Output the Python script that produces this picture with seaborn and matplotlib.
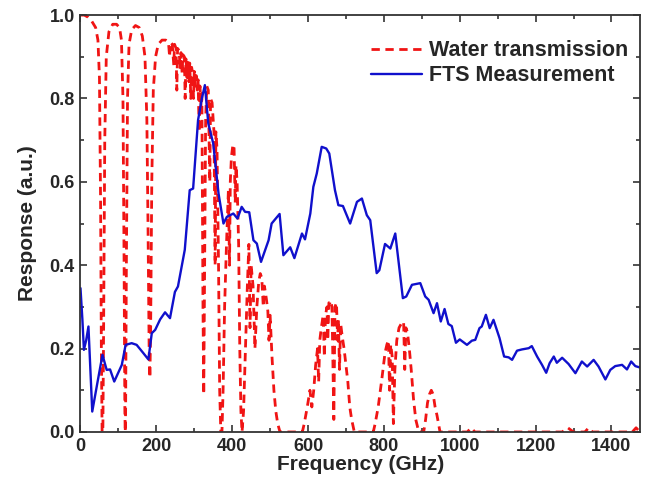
import numpy as np
import pandas as pd
import matplotlib
matplotlib.use("Agg")
import matplotlib.pyplot as plt
import seaborn as sns
from matplotlib.ticker import MultipleLocator

# --- data (rows of WATER_FREQ / WATER_TRANS line up) ---
WATER_FREQ = [0, 10, 20, 30, 40, 46, 50, 53, 55, 57,
              59, 61, 64, 68, 75, 85, 95, 103, 108, 112,
              115, 117, 118, 119, 121, 124, 128, 135, 145, 155,
              163, 170, 175, 178, 181, 183, 185, 188, 192, 198,
              205, 215, 225, 232, 235, 237, 242, 246, 248, 252,
              254, 256, 260, 263, 265, 268, 270, 274, 276, 278,
              281, 283, 286, 288, 291, 293, 296, 298, 300, 303,
              305, 308, 310, 313, 315, 318, 320, 323, 325, 327,
              330, 333, 337, 341, 343, 347, 352, 355, 357, 360,
              364, 367, 370, 373, 376, 380, 385, 390, 393, 395,
              398, 402, 405, 408, 410, 413, 417, 420, 423, 426,
              430, 435, 440, 444, 447, 450, 455, 460, 465, 470,
              474, 478, 482, 485, 490, 494, 497, 500, 505, 510,
              515, 520, 526, 585, 590, 598, 605, 610, 615, 620,
              625, 628, 631, 635, 640, 643, 646, 650, 652, 655,
              658, 660, 663, 665, 668, 671, 675, 678, 680, 683,
              686, 690, 695, 700, 705, 710, 715, 722, 772, 777,
              785, 795, 803, 808, 812, 815, 818, 822, 825, 829,
              834, 840, 846, 852, 855, 858, 862, 867, 872, 878,
              884, 892, 905, 910, 915, 920, 925, 930, 935, 940,
              948, 1020, 1030, 1040, 1270, 1285, 1300, 1330, 1340, 1350,
              1455, 1465, 1475]
WATER_TRANS = [1.00, 1.00, 0.995, 0.985, 0.97, 0.94, 0.85, 0.55, 0.20, 0.00,
               0.00, 0.25, 0.70, 0.90, 0.96, 0.978, 0.978, 0.97, 0.94, 0.80,
               0.40, 0.05, 0.00, 0.05, 0.40, 0.80, 0.93, 0.965, 0.975, 0.97,
               0.95, 0.90, 0.75, 0.50, 0.20, 0.13, 0.25, 0.60, 0.82, 0.90,
               0.93, 0.94, 0.94, 0.935, 0.90, 0.935, 0.93, 0.88, 0.93, 0.92,
               0.82, 0.92, 0.915, 0.87, 0.91, 0.86, 0.905, 0.90, 0.80, 0.895,
               0.85, 0.89, 0.84, 0.885, 0.80, 0.875, 0.86, 0.80, 0.865, 0.83,
               0.855, 0.82, 0.845, 0.72, 0.83, 0.78, 0.82, 0.30, 0.09, 0.35,
               0.75, 0.83, 0.82, 0.60, 0.80, 0.79, 0.72, 0.40, 0.72, 0.68,
               0.40, 0.10, 0.00, 0.00, 0.10, 0.30, 0.45, 0.58, 0.40, 0.60,
               0.66, 0.69, 0.68, 0.55, 0.64, 0.60, 0.45, 0.20, 0.05, 0.00,
               0.05, 0.20, 0.35, 0.45, 0.25, 0.40, 0.35, 0.20, 0.30, 0.36,
               0.38, 0.37, 0.30, 0.35, 0.32, 0.29, 0.22, 0.28, 0.18, 0.10,
               0.05, 0.02, 0.00, 0.00, 0.02, 0.06, 0.10, 0.06, 0.10, 0.16,
               0.20, 0.12, 0.22, 0.25, 0.28, 0.18, 0.28, 0.30, 0.22, 0.31,
               0.31, 0.315, 0.30, 0.20, 0.03, 0.30, 0.31, 0.22, 0.27, 0.15,
               0.26, 0.23, 0.20, 0.16, 0.12, 0.06, 0.03, 0.00, 0.00, 0.02,
               0.06, 0.13, 0.19, 0.21, 0.22, 0.10, 0.21, 0.18, 0.02, 0.15,
               0.22, 0.25, 0.26, 0.265, 0.15, 0.25, 0.24, 0.20, 0.15, 0.08,
               0.03, 0.00, 0.00, 0.03, 0.07, 0.09, 0.10, 0.09, 0.06, 0.04,
               0.00, 0.00, 0.01, 0.00, 0.00, 0.01, 0.00, 0.00, 0.01, 0.00,
               0.00, 0.01, 0.00]

FTS_FREQ = [0, 5, 9, 15, 21, 31, 45, 58, 69, 78,
            89, 109, 119, 135, 148, 165, 179, 188, 197, 210,
            223, 236, 249, 257, 275, 288, 297, 310, 320, 328,
            337, 350, 364, 377, 386, 403, 414, 425, 434, 445,
            456, 465, 476, 496, 504, 525, 535, 553, 564, 584,
            592, 606, 614, 623, 636, 648, 656, 671, 680, 692,
            711, 729, 742, 755, 764, 781, 788, 803, 817, 830,
            850, 859, 874, 896, 909, 918, 931, 940, 950, 960,
            970, 979, 990, 1000, 1019, 1032, 1041, 1052, 1058, 1069,
            1079, 1089, 1105, 1117, 1129, 1138, 1151, 1164, 1182, 1190,
            1204, 1217, 1228, 1237, 1248, 1256, 1270, 1287, 1305, 1322,
            1336, 1353, 1366, 1384, 1397, 1410, 1428, 1441, 1452, 1463,
            1474]
FTS_RESP = [0.345, 0.27, 0.197, 0.22, 0.253, 0.049, 0.12, 0.185, 0.149, 0.150,
            0.121, 0.161, 0.209, 0.213, 0.209, 0.19, 0.174, 0.237, 0.245, 0.27,
            0.287, 0.273, 0.336, 0.349, 0.437, 0.580, 0.584, 0.748, 0.80, 0.832,
            0.740, 0.692, 0.572, 0.500, 0.516, 0.524, 0.512, 0.540, 0.528, 0.527,
            0.460, 0.452, 0.408, 0.460, 0.500, 0.523, 0.424, 0.443, 0.417, 0.476,
            0.462, 0.524, 0.588, 0.620, 0.684, 0.680, 0.668, 0.580, 0.544, 0.542,
            0.500, 0.552, 0.560, 0.520, 0.508, 0.381, 0.388, 0.451, 0.440, 0.476,
            0.321, 0.325, 0.353, 0.357, 0.325, 0.317, 0.285, 0.309, 0.265, 0.295,
            0.259, 0.254, 0.214, 0.222, 0.209, 0.219, 0.221, 0.249, 0.253, 0.281,
            0.249, 0.269, 0.225, 0.181, 0.179, 0.173, 0.195, 0.198, 0.201, 0.206,
            0.181, 0.161, 0.142, 0.165, 0.181, 0.166, 0.178, 0.163, 0.141, 0.169,
            0.157, 0.173, 0.157, 0.126, 0.149, 0.158, 0.161, 0.150, 0.169, 0.158,
            0.155]

water = pd.DataFrame({"freq": WATER_FREQ, "resp": WATER_TRANS})
fts = pd.DataFrame({"freq": FTS_FREQ, "resp": FTS_RESP})

sns.set_style("ticks")
plt.rcParams['font.family'] = ['Liberation Sans', 'DejaVu Sans']
plt.rcParams['font.weight'] = 'bold'

fig, ax = plt.subplots(figsize=(6.47, 4.87), dpi=100)
fig.subplots_adjust(left=0.1244, right=0.989, bottom=0.113, top=0.969)

sns.lineplot(data=water, x="freq", y="resp", ax=ax, color="#f01414", linewidth=2.0,
             linestyle=(0, (3.0, 2.0)), label="Water transmission", sort=False)
sns.lineplot(data=fts, x="freq", y="resp", ax=ax, color="#1010cc", linewidth=1.7,
             label="FTS Measurement", sort=False)

ax.set_xlim(0, 1475)
ax.set_ylim(0, 1.0)
ax.xaxis.set_major_locator(MultipleLocator(200))
ax.xaxis.set_minor_locator(MultipleLocator(100))
ax.yaxis.set_major_locator(MultipleLocator(0.2))
ax.yaxis.set_minor_locator(MultipleLocator(0.1))
ax.yaxis.set_major_formatter(plt.FormatStrFormatter('%.1f'))
ax.tick_params(which='both', direction='in', top=True, right=True, color='#333333', width=1.2)
ax.tick_params(which='major', length=5, labelsize=13, pad=4)
ax.tick_params(which='minor', length=3)
for lab in ax.get_xticklabels() + ax.get_yticklabels():
    lab.set_fontweight('bold')
for sp in ax.spines.values():
    sp.set_color('#333333')
    sp.set_linewidth(1.3)

ax.set_xlabel("Frequency (GHz)", fontsize=15, fontweight='bold', labelpad=0)
ax.set_ylabel("Response (a.u.)", fontsize=15, fontweight='bold', labelpad=9)

leg = ax.legend(loc='upper right', bbox_to_anchor=(0.98, 0.94), frameon=False,
                fontsize=15.5, handlelength=2.4, handletextpad=0.33,
                labelspacing=0.2, borderpad=0, borderaxespad=0)
for t in leg.get_texts():
    t.set_fontweight('bold')

fig.savefig("out.png", dpi=100)
